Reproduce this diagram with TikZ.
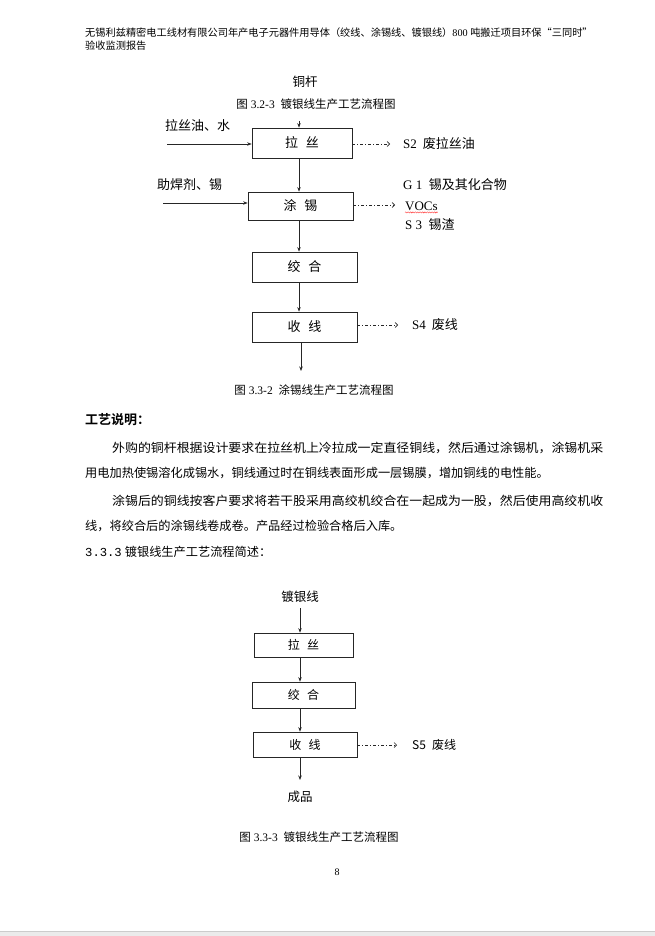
\documentclass[tikz,border=0pt]{standalone}
\usepackage{fontspec}
\usepackage{graphicx}
\setmainfont{Liberation Serif}
\newfontfamily\cjk{Noto Sans CJK SC}
\newfontfamily\cjkb{Noto Sans CJK SC Bold}
\newfontfamily\monof{Liberation Mono}
\usetikzlibrary{arrows.meta,decorations.pathmorphing}
\newcommand\myfs[1]{\fontsize{#1pt}{#1pt}\selectfont}
\tikzset{
  box/.style={draw=black!85, line width=0.7pt, inner sep=0pt, font=\cjk\myfs{13}},
  boxs/.style={box, font=\cjk\myfs{12}},
  arr/.style={-{Stealth[length=4.5pt,width=3.5pt]}, line width=0.7pt, draw=black!85},
  darr/.style={-{Straight Barb[length=2.5pt,width=5pt]}, line width=0.6pt, draw=black!85,
    dash pattern=on 3pt off 2pt on 1pt off 2pt},
  txt/.style={inner sep=0pt, anchor=west},
  ctxt/.style={inner sep=0pt},
}
\begin{document}
\begin{tikzpicture}[x=1pt,y=-1pt]
\useasboundingbox (0,0) rectangle (655,936);
\fill[white] (0,0) rectangle (655,936);
\fill[black!8] (0,931) rectangle (655,936);
\draw[black!20, line width=0.5pt] (0,931) -- (655,931);

% header
\node[txt, font=\myfs{10.2}] (h1) at (85,33) {{\cjk 无锡利兹精密电工线材有限公司年产电子元器件用导体（绞线、涂锡线、镀银线）}800 {\cjk 吨搬迁项目环保“三同时”}};
\node[txt, font=\cjk\myfs{10.2}] (h2) at (85,46) {验收监测报告};

% ---------- top diagram ----------
\node[ctxt, font=\cjk\myfs{12.5}] (tg) at (305,82) {铜杆};
\node[ctxt, font=\myfs{11.5}] (cap1) at (316,104) {{\cjk 图} 3.2-3\hspace{0.5em}{\cjk 镀银线生产工艺流程图}};

\node[box, minimum width=100pt, minimum height=30pt] (ls1) at (302,143) {拉\hspace{0.6em}丝};
\node[box, minimum width=105pt, minimum height=28pt] (tx) at (300.5,206) {涂\hspace{0.6em}锡};
\node[box, minimum width=105pt, minimum height=30pt] (jh1) at (304.5,267) {绞\hspace{0.6em}合};
\node[box, minimum width=105pt, minimum height=30pt] (sx1) at (304.5,327) {收\hspace{0.6em}线};

\coordinate (xa) at (299,0);
\coordinate (a1) at (299,121);
\draw[arr] (a1) -- (a1 |- ls1.north);
\draw[arr] (ls1.south -| xa) -- (tx.north -| xa);
\draw[arr] (tx.south -| xa) -- (jh1.north -| xa);
\draw[arr] (jh1.south -| xa) -- (sx1.north -| xa);
\coordinate (e1) at (301,371);
\draw[arr] (sx1.south -| e1) -- (e1);

\node[txt, font=\cjk\myfs{13}] (in1t) at (165,126) {拉丝油、水};
\coordinate (i1) at (167,144);
\draw[arr] (i1) -- (i1 -| ls1.west);
\node[txt, font=\cjk\myfs{13}] (in2t) at (157,185) {助焊剂、锡};
\coordinate (i2) at (163,203);
\draw[arr] (i2) -- (i2 -| tx.west);

\coordinate (d1) at (390,144);
\draw[darr] (d1 -| ls1.east) -- (d1);
\node[txt, font=\myfs{13}] (s2) at (403,144) {S2\hspace{0.45em}{\cjk 废拉丝油}};

\coordinate (d2) at (395,205);
\draw[darr] (d2 -| tx.east) -- (d2);
\node[txt, font=\myfs{13}] (g1) at (403,185) {G 1\hspace{0.5em}{\cjk 锡及其化合物}};
\node[txt, font=\myfs{13}] (vocs) at (405,206) {VOCs};
\draw[red!80, line width=0.4pt, decorate, decoration={snake, amplitude=0.6pt, segment length=2.4pt}]
  ([yshift=-1.8pt]vocs.south west) -- ([yshift=-1.8pt]vocs.south east);
\node[txt, font=\myfs{13}] (s3) at (405,225) {S 3\hspace{0.5em}{\cjk 锡渣}};

\coordinate (d3) at (398,325);
\draw[darr] (d3 -| sx1.east) -- (d3);
\node[txt, font=\myfs{13}] (s4) at (412,325) {S4\hspace{0.45em}{\cjk 废线}};

\node[ctxt, font=\myfs{11.5}] (cap2) at (314,390) {{\cjk 图} 3.3-2\hspace{0.5em}{\cjk 涂锡线生产工艺流程图}};

% ---------- text ----------
\node[txt, font=\cjkb\myfs{13}] (t0) at (85,420) {工艺说明：};
\node[txt, font=\cjk\myfs{12.2}] (p1) at (112,448) {\resizebox{491pt}{\height}{外购的铜杆根据设计要求在拉丝机上冷拉成一定直径铜线，然后通过涂锡机，涂锡机采}};
\node[txt, font=\cjk\myfs{12.2}] (p2) at (85,473) {用电加热使锡溶化成锡水，铜线通过时在铜线表面形成一层锡膜，增加铜线的电性能。};
\node[txt, font=\cjk\myfs{12.2}] (p3) at (112,501) {\resizebox{491pt}{\height}{涂锡后的铜线按客户要求将若干股采用高绞机绞合在一起成为一股，然后使用高绞机收}};
\node[txt, font=\cjk\myfs{12.2}] (p4) at (85,526) {线，将绞合后的涂锡线卷成卷。产品经过检验合格后入库。};
\node[txt, font=\myfs{12.2}] (p5) at (85,552) {{\monof 3.3.3} {\cjk 镀银线生产工艺流程简述：}};

% ---------- bottom diagram ----------
\node[ctxt, font=\cjk\myfs{12.5}] (dyx) at (300,597) {镀银线};
\node[boxs, minimum width=99pt, minimum height=24pt] (ls2) at (303.5,645) {拉\hspace{0.6em}丝};
\node[boxs, minimum width=103pt, minimum height=26pt] (jh2) at (303.5,695) {绞\hspace{0.6em}合};
\node[boxs, minimum width=104pt, minimum height=25pt] (sx2) at (305,744.5) {收\hspace{0.6em}线};

\coordinate (a2) at (300,608);
\draw[arr] (a2) -- (a2 |- ls2.north);
\draw[arr] (ls2.south -| a2) -- (jh2.north -| a2);
\draw[arr] (jh2.south -| a2) -- (sx2.north -| a2);
\coordinate (e2) at (300,780);
\draw[arr] (sx2.south -| e2) -- (e2);
\node[ctxt, font=\cjk\myfs{12.5}] (cp) at (300,797) {成品};

\coordinate (d4) at (397,745);
\draw[darr] (d4 -| sx2.east) -- (d4);
\node[txt, font=\cjk\myfs{12}] (s5) at (412,745) {S5\hspace{0.5em}废线};

\node[ctxt, font=\myfs{11.5}] (cap3) at (319,837) {{\cjk 图} 3.3-3\hspace{0.5em}{\cjk 镀银线生产工艺流程图}};
\node[ctxt, font=\myfs{10}] (pg) at (337,872) {8};
\end{tikzpicture}
\end{document}
